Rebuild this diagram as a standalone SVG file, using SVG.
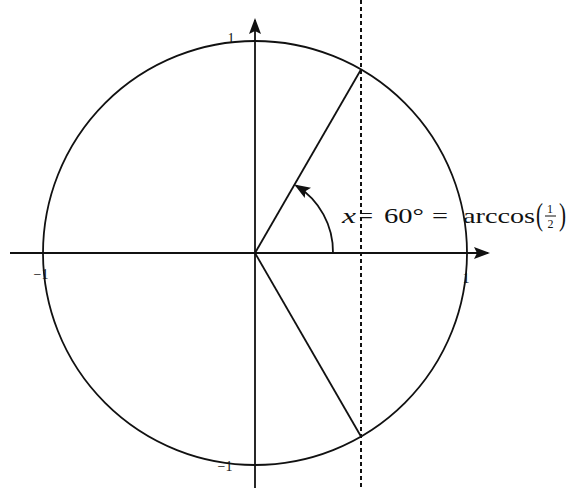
<svg xmlns="http://www.w3.org/2000/svg" width="572" height="488" viewBox="0 0 572 488">
<style>
.ln{stroke:#111;stroke-width:1.8;fill:none}
.ds{stroke:#111;stroke-width:2;stroke-dasharray:4 3;fill:none}
.lb{font-family:"Liberation Serif","DejaVu Serif",serif;fill:#111}
.sm{font-size:14px}
.big{font-size:22px}
</style>
<defs>
<marker id="ah" markerWidth="16" markerHeight="12" refX="14" refY="6" orient="auto" markerUnits="userSpaceOnUse">
<path d="M0,0 L16,6 L0,12 L3,6 Z" fill="#111"/>
</marker>
</defs>
<rect width="572" height="488" fill="#fff"/>
<g id="connectors">
<line id="x-axis" class="ln" x1="10" y1="253" x2="488" y2="253" marker-end="url(#ah)"/>
<line id="y-axis" class="ln" x1="255" y1="488" x2="255" y2="20" marker-end="url(#ah)"/>
<line id="dashed" class="ds" x1="361" y1="0" x2="361" y2="488"/>
<line id="ray-up" class="ln" x1="255" y1="253" x2="361" y2="69.5"/>
<line id="ray-down" class="ln" x1="255" y1="253" x2="361" y2="436.5"/>
<path id="angle-arc" class="ln" d="M333,253 A78,78 0 0 0 296,185.5" marker-end="url(#ah)"/>
</g>
<g id="circle"><circle class="ln" cx="255" cy="253" r="212"/></g>
<g id="labels">
<text class="lb sm" x="231" y="43" text-anchor="middle">1</text>
<text class="lb sm" x="41" y="279" text-anchor="middle">−1</text>
<text class="lb sm" x="466" y="283" text-anchor="middle">1</text>
<text class="lb sm" x="225" y="471" text-anchor="middle">−1</text>
<g id="angle-label">
<text class="lb big" x="342" y="223" font-style="italic" textLength="14" lengthAdjust="spacingAndGlyphs">x</text>
<text class="lb big" x="359" y="223" textLength="14" lengthAdjust="spacingAndGlyphs">=</text>
<text class="lb big" x="384" y="223" textLength="40" lengthAdjust="spacingAndGlyphs">60°</text>
<text class="lb big" x="432" y="223" textLength="16" lengthAdjust="spacingAndGlyphs">=</text>
<text class="lb big" x="463" y="223" textLength="72" lengthAdjust="spacingAndGlyphs">arccos</text>
<text class="lb" font-size="31" x="536" y="225" textLength="7" lengthAdjust="spacingAndGlyphs">(</text>
<text class="lb" font-size="12" x="550" y="213" text-anchor="middle">1</text>
<line x1="545" y1="216" x2="556" y2="216" stroke="#111" stroke-width="1"/>
<text class="lb" font-size="12" x="550.5" y="228" text-anchor="middle">2</text>
<text class="lb" font-size="31" x="559" y="225" textLength="7" lengthAdjust="spacingAndGlyphs">)</text>
</g>
</g>
</svg>
